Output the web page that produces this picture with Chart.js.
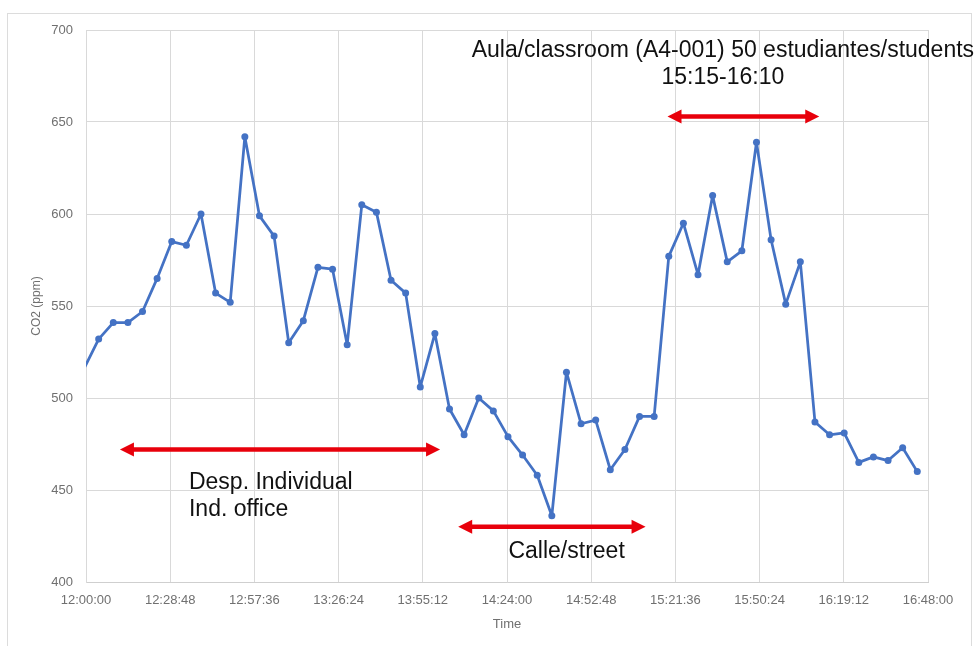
<!DOCTYPE html>
<html>
<head>
<meta charset="utf-8">
<script src="https://cdn.jsdelivr.net/npm/chart.js@4.4.1/dist/chart.umd.min.js"></script>
<style>
  body { margin: 0; background: #fff; }
  .frame { position: absolute; left: 7px; top: 13px; width: 963px; height: 660px; border: 1px solid #dcdcdc; }
  canvas { position: absolute; left: 0; top: 0; }
</style>
</head>
<body>
<div class="frame"></div>
<canvas id="co2" width="976" height="646"></canvas>
<script>
// readings every ~5 min (first one sits just left of the axis and is clipped)
const times = [
  '11:59:20', '12:04:20', '12:09:20', '12:14:20', '12:19:20', '12:24:20', '12:29:20', '12:34:20',
  '12:39:20', '12:44:20', '12:49:20', '12:54:20', '12:59:20', '13:04:20', '13:09:20', '13:14:20',
  '13:19:20', '13:24:20', '13:29:20', '13:34:20', '13:39:20', '13:44:20', '13:49:20', '13:54:20',
  '13:59:20', '14:04:20', '14:09:20', '14:14:20', '14:19:20', '14:24:20', '14:29:20', '14:34:20',
  '14:39:20', '14:44:20', '14:49:20', '14:54:20', '14:59:20', '15:04:20', '15:09:20', '15:14:20',
  '15:19:20', '15:24:20', '15:29:20', '15:34:20', '15:39:20', '15:44:20', '15:49:20', '15:54:20',
  '15:59:20', '16:04:20', '16:09:20', '16:14:20', '16:19:20', '16:24:20', '16:29:20', '16:34:20',
  '16:39:20', '16:44:20'
];
const co2 = [
  516, 532, 541, 541, 547, 565, 585, 583,
  600, 557, 552, 642, 599, 588, 530, 542,
  571, 570, 529, 605, 601, 564, 557, 506,
  535, 494, 480, 500, 493, 479, 469, 458,
  436, 514, 486, 488, 461, 472, 490, 490,
  577, 595, 567, 610, 574, 580, 639, 586,
  551, 574, 487, 480, 481, 465, 468, 466,
  473, 460
];

const xMin = '12:00:00';
const xMax = '16:48:00';
const xStep = 1728; // 28:48 in seconds
const yMin = 400, yMax = 700, yStep = 50;

// red double arrows: [from, to, level]
const arrows = [
  ['12:11:36', '14:01:06', 472],
  ['14:07:18', '15:11:24', 430],
  ['15:18:54', '16:10:48', 653]
];
// text notes: [lines, time, level of first baseline, align]
const notes = [
  [['Aula/classroom (A4-001) 50 estudiantes/students', '15:15-16:10'], '15:37:50', 685.3, 'center'],
  [['Desp. Individual', 'Ind. office'], '12:35:13', 450.5, 'left'],
  [['Calle/street'], '14:24:30', 413, 'left']
];

function toSec(s) {
  const p = s.split(':').map(Number);
  return p[0] * 3600 + p[1] * 60 + p[2];
}
function fmt(v) {
  const h = Math.floor(v / 3600), m = Math.floor((v % 3600) / 60), s = Math.round(v % 60);
  return h + ':' + String(m).padStart(2, '0') + ':' + String(s).padStart(2, '0');
}

const points = times.map((t, i) => ({ x: toSec(t), y: co2[i] }));

const notesPlugin = {
  id: 'notes',
  afterDatasetsDraw(chart) {
    const ctx = chart.ctx;
    const xs = chart.scales.x, ys = chart.scales.y;
    ctx.save();
    ctx.fillStyle = '#e8000b';
    ctx.strokeStyle = '#e8000b';
    arrows.forEach(a => {
      const x1 = xs.getPixelForValue(toSec(a[0]));
      const x2 = xs.getPixelForValue(toSec(a[1]));
      const y = ys.getPixelForValue(a[2]);
      const head = 14, half = 7;
      ctx.lineWidth = 4.5;
      ctx.beginPath();
      ctx.moveTo(x1 + head - 2, y);
      ctx.lineTo(x2 - head + 2, y);
      ctx.stroke();
      ctx.beginPath();
      ctx.moveTo(x1, y);
      ctx.lineTo(x1 + head, y - half);
      ctx.lineTo(x1 + head, y + half);
      ctx.closePath();
      ctx.fill();
      ctx.beginPath();
      ctx.moveTo(x2, y);
      ctx.lineTo(x2 - head, y - half);
      ctx.lineTo(x2 - head, y + half);
      ctx.closePath();
      ctx.fill();
    });
    ctx.fillStyle = '#111';
    ctx.font = '23px "Liberation Sans", Arial, sans-serif';
    ctx.textBaseline = 'alphabetic';
    notes.forEach(n => {
      const x = xs.getPixelForValue(toSec(n[1]));
      const y = ys.getPixelForValue(n[2]);
      ctx.textAlign = n[3];
      n[0].forEach((line, i) => ctx.fillText(line, x, y + i * 26.5));
    });
    ctx.restore();
  }
};

new Chart(document.getElementById('co2'), {
  type: 'line',
  data: {
    datasets: [{
      label: 'CO2 (ppm)',
      data: points,
      borderColor: '#4472c4',
      backgroundColor: '#4472c4',
      borderWidth: 2.75,
      borderJoinStyle: 'round',
      pointRadius: c => c.dataIndex === 0 ? 0 : 3.5,
      pointBorderWidth: 0,
      tension: 0
    }]
  },
  options: {
    responsive: false,
    animation: false,
    layout: { padding: { top: 30, right: 48, left: 0, bottom: 0 } },
    plugins: { legend: { display: false }, tooltip: { enabled: false } },
    scales: {
      x: {
        type: 'linear',
        min: toSec(xMin),
        max: toSec(xMax),
        afterFit: s => { s.height = 64; },
        grid: { color: '#d9d9d9', drawTicks: false },
        border: { color: '#cfcfcf' },
        ticks: {
          stepSize: xStep,
          padding: 11,
          maxRotation: 0,
          autoSkip: false,
          color: '#707070',
          font: { family: '"Liberation Sans", Arial, sans-serif', size: 13 },
          callback: v => fmt(v)
        },
        title: {
          display: true,
          text: 'Time',
          color: '#707070',
          font: { family: '"Liberation Sans", Arial, sans-serif', size: 13 },
          padding: { top: 0, bottom: 14 }
        }
      },
      y: {
        min: yMin,
        max: yMax,
        afterFit: s => { s.width = 86; },
        grid: { color: '#d9d9d9', drawTicks: false },
        border: { color: '#d9d9d9' },
        ticks: {
          stepSize: yStep,
          padding: 13,
          color: '#707070',
          font: { family: '"Liberation Sans", Arial, sans-serif', size: 13 }
        },
        title: {
          display: true,
          text: 'CO2 (ppm)',
          color: '#707070',
          font: { family: '"Liberation Sans", Arial, sans-serif', size: 12 },
          padding: { top: 29, bottom: 0 }
        }
      }
    }
  },
  plugins: [notesPlugin]
});
</script>
</body>
</html>
